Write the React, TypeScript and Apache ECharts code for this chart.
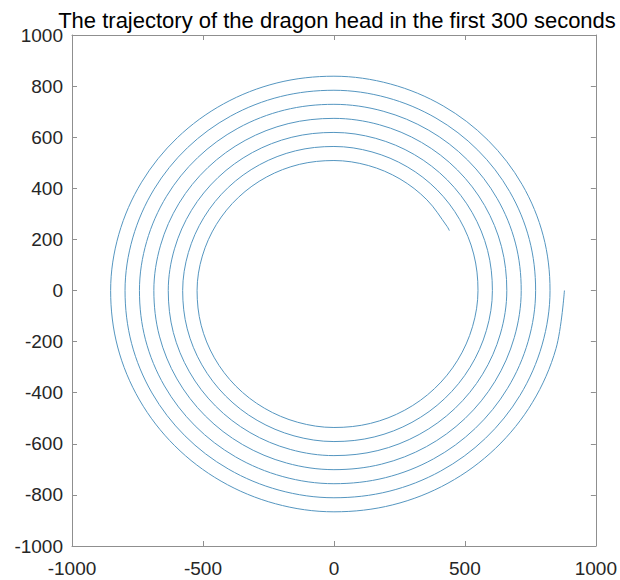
import React, { useEffect, useRef } from "react";
import * as echarts from "echarts";

// Dragon-head path: distance from the centre (cm),
// one value every 15° of clockwise sweep, starting on the +x axis.
const sweepStepDeg = 15;
const radius: number[] = [
  880, 877.7, 875.4, 873.1, 870.8, 868.5, 866.2, 864.0, 861.7, 859.4, 857.1, 854.8,
  852.5, 850.2, 847.9, 845.6, 843.3, 841.0, 838.7, 836.5, 834.2, 831.9, 829.6, 827.3,
  825, 822.7, 820.4, 818.1, 815.8, 813.5, 811.2, 809.0, 806.7, 804.4, 802.1, 799.8,
  797.5, 795.2, 792.9, 790.6, 788.3, 786.0, 783.7, 781.5, 779.2, 776.9, 774.6, 772.3,
  770, 767.7, 765.4, 763.1, 760.8, 758.5, 756.2, 754.0, 751.7, 749.4, 747.1, 744.8,
  742.5, 740.2, 737.9, 735.6, 733.3, 731.0, 728.7, 726.5, 724.2, 721.9, 719.6, 717.3,
  715, 712.7, 710.4, 708.1, 705.8, 703.5, 701.2, 699.0, 696.7, 694.4, 692.1, 689.8,
  687.5, 685.2, 682.9, 680.6, 678.3, 676.0, 673.7, 671.5, 669.2, 666.9, 664.6, 662.3,
  660, 657.7, 655.4, 653.1, 650.8, 648.5, 646.2, 644.0, 641.7, 639.4, 637.1, 634.8,
  632.5, 630.2, 627.9, 625.6, 623.3, 621.0, 618.7, 616.5, 614.2, 611.9, 609.6, 607.3,
  605, 602.7, 600.4, 598.1, 595.8, 593.5, 591.2, 589.0, 586.7, 584.4, 582.1, 579.8,
  577.5, 575.2, 572.9, 570.6, 568.3, 566.0, 563.7, 561.5, 559.2, 556.9, 554.6, 552.3,
  550, 547.7, 545.4, 543.1, 540.8, 538.5, 536.2, 534.0, 531.7, 529.4, 527.1, 524.8,
  522.5, 520.2, 517.9, 515.6, 513.3, 511.0, 508.7, 506.5, 504.2, 501.9, 499.6,
];
// where the head is at t = 300 s: [clockwise sweep in degrees, radius]
const endPoint: [number, number] = [2492, 499.1];

const xTicks = [-1000, -500, 0, 500, 1000];
const yTicks = [-1000, -800, -600, -400, -200, 0, 200, 400, 600, 800, 1000];
const titleText = "The trajectory of the dragon head in the first 300 seconds";

function toXY(sweep: number, r: number): [number, number] {
  const a = (-sweep * Math.PI) / 180;
  return [r * Math.cos(a), r * Math.sin(a)];
}

export default function App() {
  const ref = useRef<HTMLDivElement>(null);
  useEffect(() => {
    if (!ref.current) return;
    const chart = echarts.init(ref.current, undefined, { renderer: "svg" });
    const pts: [number, number][] = radius.map((r, i) => toXY(i * sweepStepDeg, r));
    pts.push(toXY(endPoint[0], endPoint[1]));

    const axisColor = "#8f8f8f";
    const labelStyle = {
      color: "#262626",
      fontFamily: "Liberation Sans, Arial, sans-serif",
      fontSize: 19,
      formatter: (v: number) => String(v),
    };
    const xStep = xTicks[1] - xTicks[0];
    const yStep = yTicks[1] - yTicks[0];
    const baseX = {
      type: "value" as const,
      min: xTicks[0],
      max: xTicks[xTicks.length - 1],
      interval: xStep,
      axisLine: { show: true, onZero: false, lineStyle: { color: axisColor, width: 1 } },
      axisTick: { show: true, inside: true, length: 5, lineStyle: { color: axisColor } },
      splitLine: { show: false },
    };
    const baseY = {
      type: "value" as const,
      min: yTicks[0],
      max: yTicks[yTicks.length - 1],
      interval: yStep,
      axisLine: { show: true, onZero: false, lineStyle: { color: axisColor, width: 1 } },
      axisTick: { show: true, inside: true, length: 5, lineStyle: { color: axisColor } },
      splitLine: { show: false },
    };

    chart.setOption({
      animation: false,
      backgroundColor: "#ffffff",
      title: {
        text: titleText,
        left: 332,
        textAlign: "center",
        top: 4,
        textStyle: {
          color: "#000000",
          fontFamily: "Liberation Sans, Arial, sans-serif",
          fontSize: 22,
          fontWeight: "normal",
        },
      },
      grid: { left: 72, right: 23, top: 35, bottom: 34, containLabel: false },
      xAxis: [
        {
          ...baseX,
          position: "bottom",
          axisLabel: { ...labelStyle, margin: 13 },
        },
        {
          ...baseX,
          position: "top",
          axisLabel: { show: false },
        },
      ],
      yAxis: [
        {
          ...baseY,
          position: "left",
          axisLabel: { ...labelStyle, margin: 9 },
        },
        {
          ...baseY,
          position: "right",
          axisLabel: { show: false },
        },
      ],
      series: [
        {
          type: "line",
          data: pts,
          xAxisIndex: 0,
          yAxisIndex: 0,
          smooth: 0.34,
          showSymbol: false,
          symbol: "none",
          lineStyle: { color: "#5596c0", width: 1 },
        },
      ],
    });
    return () => chart.dispose();
  }, []);
  return (
    <div
      ref={ref}
      style={{ position: "fixed", left: 0, top: 0, width: 620, height: 580 }}
    />
  );
}
